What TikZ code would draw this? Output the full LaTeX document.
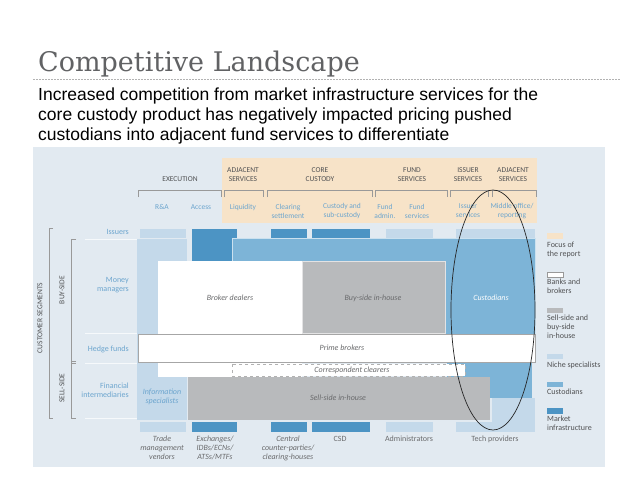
\documentclass[tikz,border=0pt]{standalone}
\usepackage{fontspec}
\setmainfont{Carlito}
\newfontfamily\titlefont{DejaVu Serif}
\newfontfamily\subfont{Liberation Sans}
\usepackage{xcolor}
\usepackage{tikz}
\definecolor{panel}{HTML}{E2EAF1}
\definecolor{peach}{HTML}{F7E3C8}
\definecolor{niche}{HTML}{C4D9EA}
\definecolor{cust}{HTML}{7DB4D7}
\definecolor{infra}{HTML}{4C94C4}
\definecolor{sellgray}{HTML}{B8BABC}
\definecolor{lblblue}{HTML}{6CA5CE}
\definecolor{txtgray}{HTML}{6A6B6D}
\definecolor{headgray}{HTML}{505153}
\tikzstyle{blocklbl}=[font=\fontsize{8}{9}\selectfont\itshape, text=txtgray, align=center, inner sep=0pt]
\tikzstyle{rowlbl}=[font=\fontsize{8}{9.5}\selectfont, text=lblblue, align=right, anchor=east, inner sep=0pt]
\tikzstyle{collbl}=[font=\fontsize{7.5}{9}\selectfont, text=lblblue, align=center, inner sep=0pt]
\tikzstyle{headlbl}=[font=\fontsize{7.5}{9}\selectfont, text=headgray, align=center, inner sep=0pt]
\tikzstyle{sidelbl}=[font=\fontsize{7.5}{9}\selectfont, text=headgray, rotate=90, inner sep=0pt]
\tikzstyle{legtxt}=[font=\fontsize{8}{9}\selectfont, text=headgray, align=left, anchor=north west, inner sep=0pt]
\tikzstyle{bracket}=[draw=gray!80, line width=0.8pt]
\tikzstyle{rowline}=[draw=white!70!panel, line width=0.6pt]

\begin{document}
\begin{tikzpicture}[x=1pt, y=-1pt]
        \useasboundingbox[fill=white] (0,0) rectangle (638,479);
        % title and text
        \node[anchor=base west, inner sep=0pt, text=headgray!90, font=\titlefont\fontsize{27}{30}\selectfont] (title) at (38,71) {Competitive Landscape};
        \draw[gray!60, dash pattern=on 1.5pt off 1.5pt, line width=0.6pt] (33,79) -- (620,79);
        \node[anchor=north west, inner sep=0pt, align=left, font=\subfont\fontsize{17.5}{19.6}\selectfont] (intro) at (38,88)
             {Increased competition from market infrastructure services for the\\
              core custody product has negatively impacted pricing pushed\\
              custodians into adjacent fund services to differentiate};
        % panel
        \fill[panel] (33,147) rectangle (605,467);
        \fill[peach] (222,158) rectangle (537,223);
        % headers
        \node[headlbl] (hexe) at (180,179) {EXECUTION};
        \node[headlbl] (hadj) at (243,175) {ADJACENT\\SERVICES};
        \node[headlbl] (hcore) at (320,175) {CORE\\CUSTODY};
        \node[headlbl] (hfund) at (412,175) {FUND\\SERVICES};
        \node[headlbl] (hiss) at (468,175) {ISSUER\\SERVICES};
        \node[headlbl] (hadj2) at (513,175) {ADJACENT\\SERVICES};
        \foreach \a/\b in {138/221, 224/263, 267/372, 375/447, 450/488, 492/536}
             \draw[bracket] (\a,197) -- (\a,190) -- (\b,190) -- (\b,197);
        \node[collbl] (cra) at (162,207) {R\&A};
        \node[collbl] (cacc) at (201,207) {Access};
        \node[collbl] (cliq) at (243,207) {Liquidity};
        \node[collbl] (ccle) at (288,211) {Clearing\\settlement};
        \node[collbl] (ccus) at (342,211) {Custody and\\sub-custody};
        \node[collbl] (cfa) at (385,211) {Fund\\admin.};
        \node[collbl] (cfs) at (417,211) {Fund\\services};
        \node[collbl] (cis) at (468,211) {Issuer\\services};
        \node[collbl] (cmo) at (512,211) {Middle office/\\reporting};
        % customer segments
        \draw[bracket] (53,228) -- (49,228) -- (49,418) -- (53,418);
        \draw[bracket] (76,239) -- (71,239) -- (71,363) -- (76,363);
        \draw[bracket] (76,361) -- (71,361) -- (71,418) -- (76,418);
        \node[sidelbl] (segs) at (40,318) {CUSTOMER SEGMENTS};
        \node[sidelbl] (buy) at (62,290) {BUY-SIDE};
        \node[sidelbl] (sell) at (62,388) {SELL-SIDE};
        \foreach \y in {239,333,363,418} \draw[rowline] (85,\y) -- (137,\y);
        \node[rowlbl] (riss) at (129,232) {Issuers};
        \node[rowlbl] (rmon) at (129,285) {Money\\managers};
        \node[rowlbl] (rhed) at (129,349) {Hedge funds};
        \node[rowlbl] (rfin) at (129,390) {Financial\\intermediaries};
        % bars, top and bottom rows
        \foreach \a/\b/\c in {140/186/niche, 192/237/infra, 271/307/infra, 312/370/infra, 386/433/niche, 456/535/niche} {
             \fill[\c] (\a,229) rectangle (\b,238);
             \fill[\c] (\a,422) rectangle (\b,432);
        }
        % blocks
        \fill[infra] (192,229) rectangle (237,261);
        \fill[niche] (137,239) rectangle (187,420);
        \filldraw[fill=cust, draw=white!60!cust, line width=0.6pt] (232,238) rectangle (535,334);
        \fill[white] (158,261) rectangle (302,377);
        \filldraw[fill=sellgray, draw=white!60!sellgray, line width=0.6pt] (302,261) rectangle (445,333);
        \fill[cust] (447,362) rectangle (532,398);
        \fill[sellgray] (188,377) rectangle (490,420);
        \fill[niche] (492,398) rectangle (535,422);
        \filldraw[fill=white, draw=gray!70, line width=0.6pt] (138,334) rectangle (535,362);
        \filldraw[fill=white, draw=gray!60, dashed, line width=0.6pt] (232,364) rectangle (465,376);
        \node[blocklbl] (brok) at (230,298) {Broker dealers};
        \node[blocklbl] (bside) at (373,298) {Buy-side in-house};
        \node[blocklbl, text=white] (custd) at (491,298) {Custodians};
        \node[blocklbl] (prime) at (342,348) {Prime brokers};
        \node[blocklbl] (corr) at (352,370) {Correspondent clearers};
        \node[blocklbl] (sside) at (338,398) {Sell-side in-house};
        \node[blocklbl, text=lblblue] (info) at (162,397) {Information\\specialists};
        % providers
        \node[blocklbl, anchor=north] (ptrade) at (162,436) {Trade\\management\\vendors};
        \node[blocklbl, anchor=north] (pexch) at (215,436) {Exchanges/\\IDBs/ECNs/\\ATSs/MTFs};
        \node[blocklbl, anchor=north] (pccp) at (288,436) {Central\\counter-parties/\\clearing-houses};
        \node[blocklbl, font=\fontsize{8}{9}\selectfont, anchor=north] (pcsd) at (340,436) {CSD};
        \node[blocklbl, font=\fontsize{8}{9}\selectfont, anchor=north] (padm) at (409,436) {Administrators};
        \node[blocklbl, font=\fontsize{8}{9}\selectfont, anchor=north] (ptech) at (495,436) {Tech providers};
        % legend
        \fill[peach] (547,233) rectangle (563,239);
        \node[legtxt] (lfoc) at (547,242) {Focus of\\the report};
        \filldraw[fill=white, draw=gray!80, line width=0.5pt] (547,272) rectangle (563,277);
        \node[legtxt] (lbank) at (547,279) {Banks and\\brokers};
        \fill[sellgray] (547,308) rectangle (563,313);
        \node[legtxt] (lsell) at (547,315) {Sell-side and\\buy-side\\in-house};
        \fill[niche] (547,354) rectangle (563,359);
        \node[legtxt] (lniche) at (547,362) {Niche specialists};
        \fill[cust] (547,382) rectangle (563,387);
        \node[legtxt] (lcust) at (547,389) {Custodians};
        \fill[infra] (547,408) rectangle (563,414);
        \node[legtxt] (linfra) at (547,416) {Market\\infrastructure};
        % focus
        \draw[black!85, line width=0.7pt] (493,310) ellipse [x radius=42, y radius=120];
    \end{tikzpicture}
\end{document}
